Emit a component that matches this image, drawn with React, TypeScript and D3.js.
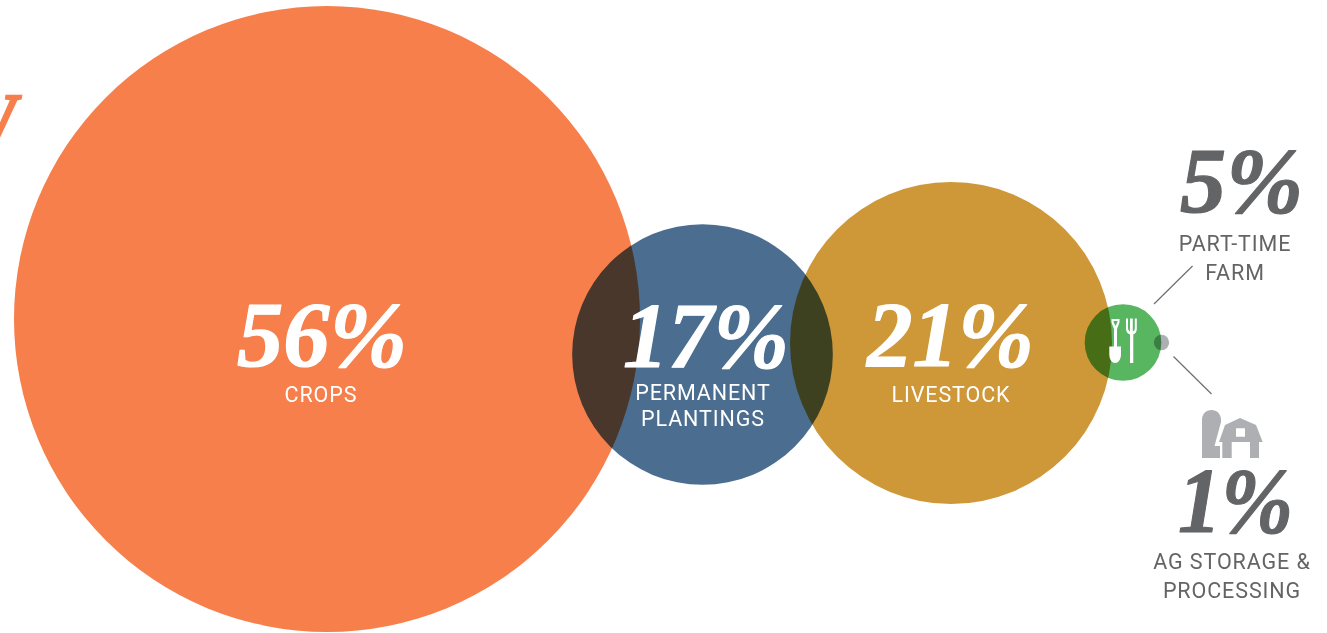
import React from "react";
import * as d3 from "d3";

const categories = ["CROPS", "PERMANENT PLANTINGS", "LIVESTOCK", "PART-TIME FARM", "AG STORAGE & PROCESSING"];
const shares = [56, 17, 21, 5, 1];
const bubbleColors = ["#F67F4C", "#4B6D8F", "#CE9839", "#57B65F", "#AEAFB2"];
const centerX = [327, 702.5, 951, 1123, 1161.5];
const centerY = [319, 354.5, 343, 342.5, 342.5];

// Bubbles are sized linearly with share; the largest one is capped to fit the page.
const radius = d3.scaleLinear().domain([0, 21]).range([0, 161]);
const radiusOf = (v: number) => Math.min(radius(v), 313);

const SERIF = "'Liberation Serif', serif";
const SANS = "Roboto, 'Liberation Sans', sans-serif";
const GRAY = "#636466";

const numberLabels = [
  { text: "56%", x: 237, y: 366, w: 170, fill: "#fff", size: 94 },
  { text: "17%", x: 623, y: 367, w: 166, fill: "#fff", size: 94 },
  { text: "21%", x: 867, y: 366, w: 167, fill: "#fff", size: 94 },
  { text: "5%", x: 1180, y: 212, w: 123, fill: GRAY, size: 94 },
  { text: "1%", x: 1178, y: 532, w: 115, fill: GRAY, size: 94 },
];
const captionLabels = [
  { text: "CROPS", x: 321, y: 402, fill: "#fff" },
  { text: "PERMANENT", x: 703, y: 400, fill: "#fff" },
  { text: "PLANTINGS", x: 703, y: 426, fill: "#fff" },
  { text: "LIVESTOCK", x: 951, y: 402, fill: "#fff" },
  { text: "PART-TIME", x: 1235, y: 251, fill: GRAY },
  { text: "FARM", x: 1235, y: 280, fill: GRAY },
  { text: "AG STORAGE &", x: 1232, y: 569, fill: GRAY },
  { text: "PROCESSING", x: 1232, y: 598, fill: GRAY },
];

export default function App() {
  return (
    <svg width={1327} height={633} viewBox="0 0 1327 633"
      style={{ position: "absolute", left: 0, top: 0, display: "block", background: "#fff" }}>
      <text x={17} y={140} textAnchor="end" fontFamily={SERIF} fontStyle="italic" fontWeight={700}
        fontSize={68} fill="#F67F4C" stroke="#F67F4C" strokeWidth={2.5}>W</text>

      {shares.map((v, i) => (
        <circle key={categories[i]} cx={centerX[i]} cy={centerY[i]} r={radiusOf(v)} fill={bubbleColors[i]}
          style={{ mixBlendMode: "multiply" }} />
      ))}

      {/* shovel and fork */}
      <g fill="#fff">
        <path fillRule="evenodd" d="M1111.5 319H1119.5V322.5L1117 329V346.5H1121V354C1121 360 1118 363 1115.2 363C1112.2 363 1109.3 360 1109.3 354V346.5H1114V329L1111.5 322.5ZM1113.6 321V322.3L1115.5 326L1117.4 322.3V321Z" />
        <path d="M1126 318.5H1128V328C1128 330 1129 331 1130 331.5V318.5H1132.8V331.5C1134 331 1134.8 330 1134.8 328V318.5H1136.8V329C1136.8 332 1135 334 1133.3 334.5V363H1130V334.5C1128 334 1126 332 1126 329Z" />
      </g>

      {/* silo and barn */}
      <g fill="#AEAFB2">
        <path d="M1202 458V420C1202 414 1206 410 1211.5 410C1217 410 1221 414 1221 420V422L1214.5 446H1220V458Z" />
        <path fillRule="evenodd" d="M1240 418L1256 425L1262.7 442H1259V458H1250V442H1231.7V458H1222.3V442H1219L1225 425ZM1236 428.3V436.7H1245V428.3Z" />
      </g>

      <line x1={1154} y1={304} x2={1192.5} y2={266} stroke="#6D6E71" strokeWidth={1.2} />
      <line x1={1173.5} y1={356.5} x2={1211.5} y2={394} stroke="#6D6E71" strokeWidth={1.2} />

      {numberLabels.map((d) => (
        <text key={d.text} x={d.x} y={d.y} textLength={d.w} lengthAdjust="spacingAndGlyphs"
          fontFamily={SERIF} fontStyle="italic" fontWeight={700} fontSize={d.size} fill={d.fill}
          stroke={d.fill} strokeWidth={1.2} strokeLinejoin="round">{d.text}</text>
      ))}
      {captionLabels.map((d) => (
        <text key={d.text} x={d.x} y={d.y} textAnchor="middle" fontFamily={SANS} fontWeight={400}
          fontSize={21.5} letterSpacing={0.9} fill={d.fill}>{d.text}</text>
      ))}
    </svg>
  );
}
